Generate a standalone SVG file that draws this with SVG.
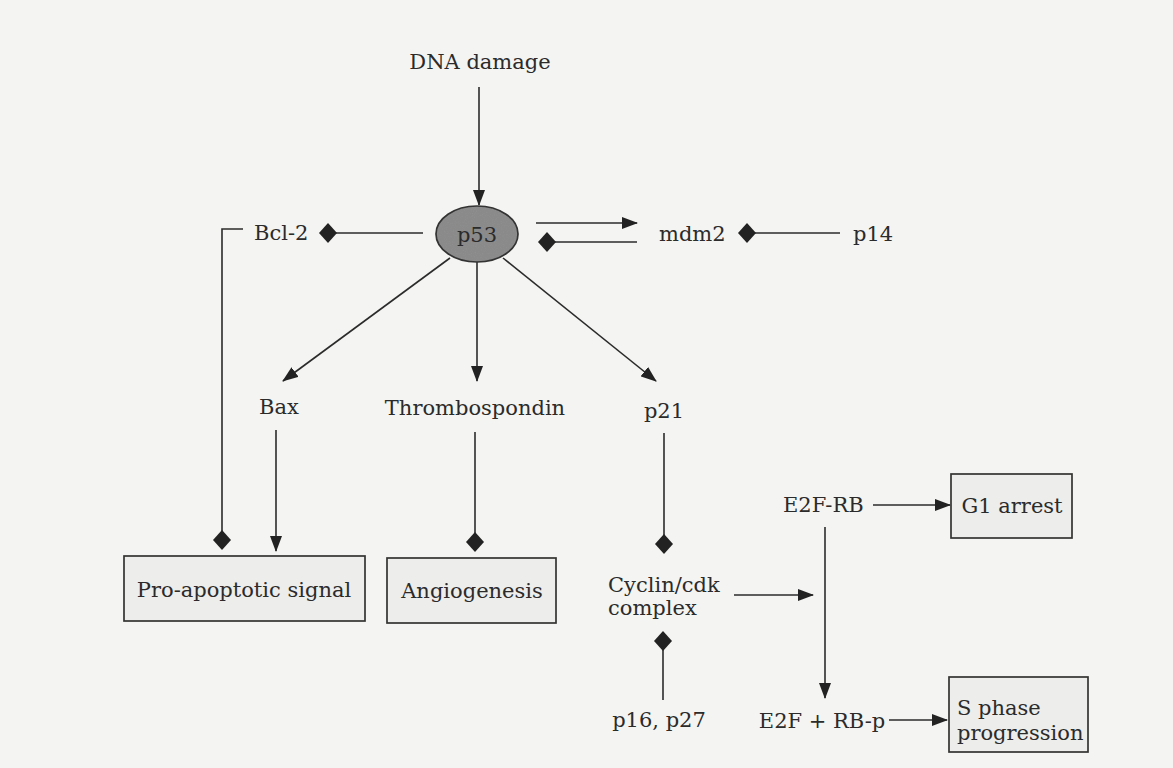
<svg xmlns="http://www.w3.org/2000/svg" xmlns:xlink="http://www.w3.org/1999/xlink" width="1173" height="768" viewBox="0 0 1173 768">
<style>
.t{font-family:"DejaVu Serif","Liberation Serif",serif;font-size:21px;fill:#2b2b2b}
.m{text-anchor:middle}
.ln{stroke:#2b2b2b;stroke-width:1.6;fill:none}
.bx{fill:#ededeb;stroke:#333;stroke-width:1.7}
.dm{fill:#222}
</style>
<defs>
<marker id="ah" viewBox="0 0 16 12" refX="15" refY="6" markerWidth="16" markerHeight="12" markerUnits="userSpaceOnUse" orient="auto">
<path d="M0,0 L16,6 L0,12 Z" fill="#222"/>
</marker>
<path id="dia" d="M0,-10 L9,0 L0,10 L-9,0 Z" class="dm"/>
<filter id="speck" x="0" y="0" width="100%" height="100%">
<feTurbulence type="fractalNoise" baseFrequency="0.9" numOctaves="2" seed="3" result="n"/>
<feColorMatrix in="n" type="matrix" values="0 0 0 0 0.3 0 0 0 0 0.3 0 0 0 0 0.3 0 0 0 -2.4 1.2" result="s"/>
<feComposite in="s" in2="SourceGraphic" operator="in"/>
</filter>
</defs>
<rect width="1173" height="768" fill="#f4f4f2"/>

<g id="connectors">
<line class="ln" x1="479" y1="87" x2="479" y2="205" marker-end="url(#ah)"/>
<path class="ln" d="M243,229 H222 V531"/>
<use xlink:href="#dia" x="222" y="540"/>
<line class="ln" x1="336" y1="233" x2="423" y2="233"/>
<use xlink:href="#dia" x="328" y="233"/>
<line class="ln" x1="536" y1="223" x2="637" y2="223" marker-end="url(#ah)"/>
<line class="ln" x1="555" y1="242" x2="637" y2="242"/>
<use xlink:href="#dia" x="547" y="242"/>
<line class="ln" x1="755" y1="233" x2="840" y2="233"/>
<use xlink:href="#dia" x="747" y="233"/>
<line class="ln" x1="450" y1="258" x2="283" y2="381" marker-end="url(#ah)"/>
<line class="ln" x1="477" y1="262" x2="477" y2="381" marker-end="url(#ah)"/>
<line class="ln" x1="503" y1="258" x2="656" y2="381" marker-end="url(#ah)"/>
<line class="ln" x1="276" y1="430" x2="276" y2="551" marker-end="url(#ah)"/>
<line class="ln" x1="475" y1="432" x2="475" y2="533"/>
<use xlink:href="#dia" x="475" y="542"/>
<line class="ln" x1="664" y1="433" x2="664" y2="535"/>
<use xlink:href="#dia" x="664" y="544"/>
<line class="ln" x1="734" y1="595" x2="813" y2="595" marker-end="url(#ah)"/>
<line class="ln" x1="663" y1="650" x2="663" y2="700"/>
<use xlink:href="#dia" x="663" y="641"/>
<line class="ln" x1="873" y1="505" x2="950" y2="505" marker-end="url(#ah)"/>
<line class="ln" x1="825" y1="527" x2="825" y2="698" marker-end="url(#ah)"/>
<line class="ln" x1="889" y1="720" x2="947" y2="720" marker-end="url(#ah)"/>
</g>

<g id="dna-damage"><text class="t m" x="480" y="69">DNA damage</text></g>
<g id="p53">
<ellipse cx="477" cy="234" rx="41" ry="28" fill="#8a8a8a" stroke="#333" stroke-width="1.7"/>
<ellipse cx="477" cy="234" rx="40" ry="27" fill="#fff" filter="url(#speck)" opacity="0.55"/>
<text class="t m" x="477" y="242" fill="#3a3a3a">p53</text>
</g>
<g id="bcl2"><text class="t" x="254" y="240">Bcl-2</text></g>
<g id="mdm2"><text class="t" x="659" y="241">mdm2</text></g>
<g id="p14"><text class="t" x="853" y="241">p14</text></g>
<g id="bax"><text class="t m" x="279" y="414">Bax</text></g>
<g id="thrombospondin"><text class="t m" x="475" y="415">Thrombospondin</text></g>
<g id="p21"><text class="t m" x="664" y="418">p21</text></g>
<g id="pro-apoptotic">
<rect class="bx" x="124" y="556" width="241" height="65"/>
<text class="t m" x="244" y="597">Pro-apoptotic signal</text>
</g>
<g id="angiogenesis">
<rect class="bx" x="387" y="558" width="169" height="65"/>
<text class="t m" x="472" y="598">Angiogenesis</text>
</g>
<g id="cyclin-cdk">
<text class="t" x="608" y="592">Cyclin/cdk</text>
<text class="t" x="608" y="615">complex</text>
</g>
<g id="p16-p27"><text class="t m" x="659" y="727">p16, p27</text></g>
<g id="e2f-rb"><text class="t" x="783" y="512">E2F-RB</text></g>
<g id="g1-arrest">
<rect class="bx" x="951" y="474" width="121" height="64"/>
<text class="t m" x="1012" y="513">G1 arrest</text>
</g>
<g id="e2f-rbp"><text class="t m" x="822" y="728">E2F + RB-p</text></g>
<g id="s-phase">
<rect class="bx" x="949" y="677" width="139" height="75"/>
<text class="t" x="957" y="715">S phase</text>
<text class="t" x="957" y="740">progression</text>
</g>
</svg>
